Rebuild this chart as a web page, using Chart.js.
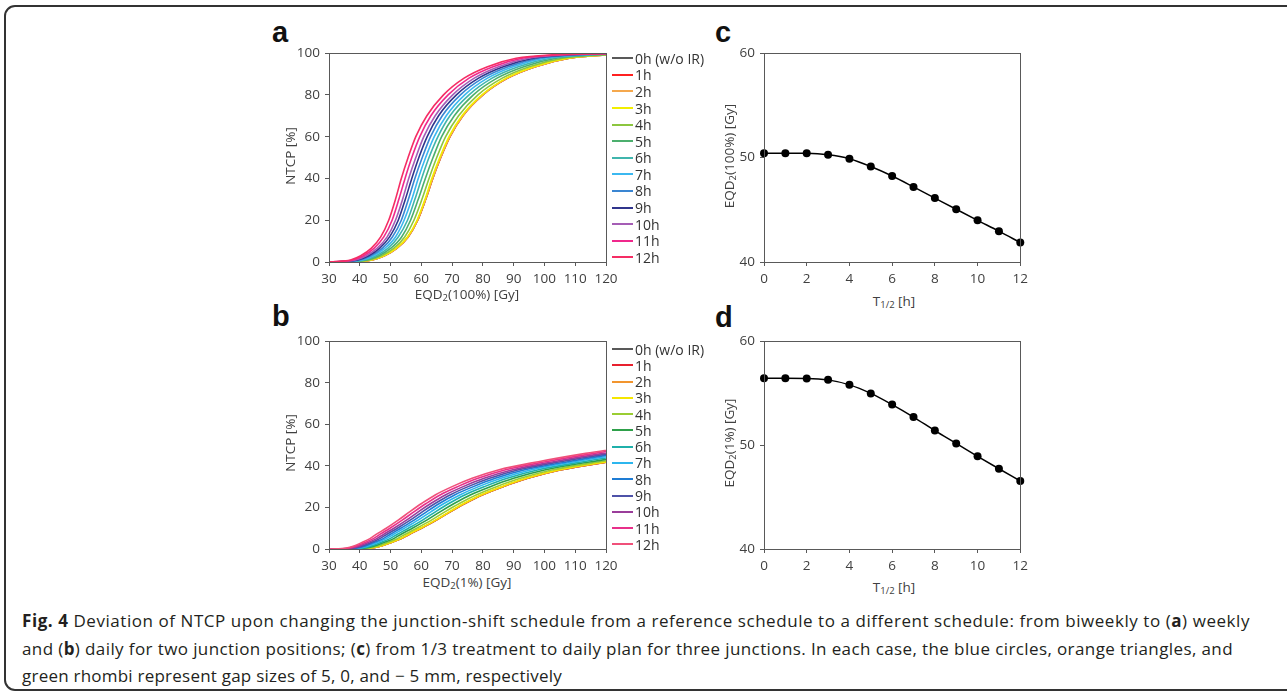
<!DOCTYPE html>
<html>
<head>
<meta charset="utf-8">
<script src="https://cdn.jsdelivr.net/npm/chart.js@4.4.1/dist/chart.umd.min.js"></script>
<style>
  html, body { margin: 0; padding: 0; background: #fff; }
  body { width: 1287px; height: 693px; position: relative; overflow: hidden; font-family: "Open Sans", sans-serif; color: #404040; }
  .frame { position: absolute; left: 4px; top: 5px; width: 1300px; height: 686px; border: 2px solid #333; border-radius: 11px; box-sizing: border-box; }
  canvas { position: absolute; display: block; }
  .letter { position: absolute; font-family: "Liberation Sans", Arial, sans-serif; font-weight: bold; font-size: 29px; line-height: 29px; color: #111; }
  .legend .row { position: absolute; height: 16px; display: flex; align-items: center; white-space: nowrap; font-size: 14px; color: #333; }
  .legend .sw { width: 21px; height: 2px; margin-right: 2px; }
  .xt, .yt { position: absolute; font-size: 13.5px; white-space: nowrap; color: #404040; }
  .xt { transform: translate(-50%, -50%); }
  .yt { transform: translate(-50%, -50%) rotate(-90deg); }
  sub { font-size: 0.7em; vertical-align: -0.25em; line-height: 0; }
  .cl { position: absolute; left: 22px; white-space: nowrap; font-size: 17px; line-height: 20px; color: #231f20; }
</style>
</head>
<body>
<div class="frame"></div>

<div class="letter" style="left:272px;top:18px">a</div>
<div class="letter" style="left:272px;top:302px">b</div>
<div class="letter" style="left:715px;top:18px">c</div>
<div class="letter" style="left:715px;top:303px">d</div>

<canvas id="chartA" width="365" height="246" style="left:260px;top:40px"></canvas>
<canvas id="chartB" width="365" height="245" style="left:260px;top:328px"></canvas>
<canvas id="chartC" width="313" height="246" style="left:720px;top:40px"></canvas>
<canvas id="chartD" width="313" height="245" style="left:720px;top:328px"></canvas>

<div class="yt" style="left:290px;top:156px">NTCP [%]</div>
<div class="xt" style="left:467px;top:294px">EQD<sub>2</sub>(100%) [Gy]</div>
<div class="yt" style="left:290px;top:443px">NTCP [%]</div>
<div class="xt" style="left:467px;top:582px">EQD<sub>2</sub>(1%) [Gy]</div>
<div class="yt" style="left:729px;top:156px">EQD<sub>2</sub>(100%) [Gy]</div>
<div class="xt" style="left:894px;top:301px">T<sub>1/2</sub> [h]</div>
<div class="yt" style="left:729px;top:443px">EQD<sub>2</sub>(1%) [Gy]</div>
<div class="xt" style="left:894px;top:587px">T<sub>1/2</sub> [h]</div>

<div class="legend" id="legendA"></div>
<div class="legend" id="legendB"></div>

<div class="cl" data-w="1228" style="top:611px"><b>Fig. 4</b> Deviation of NTCP upon changing the junction-shift schedule from a reference schedule to a different schedule: from biweekly to (<b>a</b>) weekly</div>
<div class="cl" data-w="1211" style="top:639px">and (<b>b</b>) daily for two junction positions; (<b>c</b>) from 1/3 treatment to daily plan for three junctions. In each case, the blue circles, orange triangles, and</div>
<div class="cl" data-w="540" style="top:666px">green rhombi represent gap sizes of 5, 0, and − 5 mm, respectively</div>

<script>
/* ---------- Data ---------- */
const seriesLabels = ['0h (w/o IR)', '1h', '2h', '3h', '4h', '5h', '6h', '7h', '8h', '9h', '10h', '11h', '12h'];

// Panel a: NTCP levels [%] and the EQD2(100%) [Gy] where each curve reaches them
const ntcpLevelsA = [0, 0.2, 1, 3, 6.5, 12, 20, 30, 40, 50, 60, 70, 80, 88, 93.5, 97.5, 99.2, 99.9];
const doseA = [
  [30, 38.0, 44.0, 48.0, 52.0, 55.7, 58.8, 61.4, 63.7, 66.3, 69.3, 73.5, 80.0, 88.0, 97.0, 108.0, 122.0, 150.0], // 0h
  [30, 38.0, 44.0, 48.0, 52.0, 55.7, 58.8, 61.4, 63.7, 66.3, 69.3, 73.5, 80.0, 88.0, 97.0, 108.0, 122.0, 150.0], // 1h
  [30, 38.0, 44.0, 48.0, 52.0, 55.7, 58.8, 61.4, 63.7, 66.3, 69.3, 73.5, 80.0, 88.0, 97.0, 108.0, 122.0, 150.0], // 2h
  [30, 37.8, 43.8, 47.8, 51.8, 55.5, 58.6, 61.2, 63.4, 66.0, 69.0, 73.2, 79.7, 87.6, 96.6, 107.6, 121.5, 149.4], // 3h
  [30, 37.3, 43.1, 47.1, 51.0, 54.6, 57.6, 60.2, 62.5, 65.0, 67.9, 72.1, 78.4, 86.3, 95.1, 105.9, 119.6, 147.1], // 4h
  [30, 36.5, 42.3, 46.2, 50.0, 53.6, 56.5, 59.0, 61.3, 63.8, 66.6, 70.7, 76.9, 84.6, 93.3, 103.8, 117.3, 144.2], // 5h
  [30, 35.8, 41.5, 45.3, 49.1, 52.5, 55.5, 57.9, 60.1, 62.5, 65.4, 69.3, 75.5, 83.0, 91.5, 101.9, 115.1, 141.5], // 6h
  [30, 35.2, 40.7, 44.4, 48.1, 51.6, 54.4, 56.9, 59.0, 61.4, 64.2, 68.1, 74.1, 81.5, 89.8, 100.0, 113.0, 138.9], // 7h
  [30, 34.5, 40.0, 43.6, 47.3, 50.6, 53.5, 55.8, 57.9, 60.3, 63.0, 66.8, 72.7, 80.0, 88.2, 98.2, 110.9, 136.4], // 8h
  [30, 33.9, 39.3, 42.9, 46.4, 49.7, 52.5, 54.8, 56.9, 59.2, 61.9, 65.6, 71.4, 78.6, 86.6, 96.4, 108.9, 133.9], // 9h
  [30, 33.3, 38.6, 42.1, 45.6, 48.9, 51.6, 53.9, 55.9, 58.2, 60.8, 64.5, 70.2, 77.2, 85.1, 94.7, 107.0, 131.6], // 10h
  [30, 32.6, 37.8, 41.2, 44.6, 47.8, 50.5, 52.7, 54.7, 56.9, 59.5, 63.1, 68.7, 75.5, 83.3, 92.7, 104.7, 128.8], // 11h
  [30, 31.9, 37.0, 40.3, 43.7, 46.8, 49.4, 51.6, 53.5, 55.7, 58.2, 61.8, 67.2, 73.9, 81.5, 90.8, 102.5, 126.1]  // 12h
];

// Panel b: NTCP levels [%] and the EQD2(1%) [Gy] where each curve reaches them
const ntcpLevelsB = [0, 0.1, 0.5, 1.5, 3, 5, 7, 10, 14, 18, 22, 26, 30, 34, 38, 42, 46, 50];
const doseB = [
  [30, 40.0, 44.0, 47.0, 50.0, 53.5, 56.0, 60.0, 65.0, 69.5, 74.3, 79.7, 86.5, 94.5, 105.0, 121.0, 140.0, 162.0], // 0h
  [30, 40.0, 44.0, 47.0, 50.0, 53.5, 56.0, 60.0, 65.0, 69.5, 74.3, 79.7, 86.5, 94.5, 105.0, 121.0, 140.0, 162.0], // 1h
  [30, 40.0, 44.0, 47.0, 50.0, 53.5, 56.0, 60.0, 65.0, 69.5, 74.3, 79.7, 86.5, 94.5, 105.0, 121.0, 140.0, 162.0], // 2h
  [30, 39.8, 43.8, 46.8, 49.8, 53.2, 55.7, 59.7, 64.7, 69.2, 73.9, 79.3, 86.1, 94.0, 104.5, 120.4, 139.3, 161.2], // 3h
  [30, 39.0, 42.9, 45.9, 48.8, 52.2, 54.6, 58.5, 63.4, 67.8, 72.5, 77.8, 84.4, 92.2, 102.4, 118.0, 136.6, 158.0], // 4h
  [30, 38.1, 41.9, 44.8, 47.6, 51.0, 53.3, 57.1, 61.9, 66.2, 70.8, 75.9, 82.4, 90.0, 100.0, 115.2, 133.3, 154.3], // 5h
  [30, 37.2, 40.9, 43.7, 46.5, 49.8, 52.1, 55.8, 60.5, 64.7, 69.1, 74.1, 80.5, 87.9, 97.7, 112.6, 130.2, 150.7], // 6h
  [30, 36.4, 40.0, 42.7, 45.5, 48.6, 50.9, 54.5, 59.1, 63.2, 67.5, 72.5, 78.6, 85.9, 95.5, 110.0, 127.3, 147.3], // 7h
  [30, 35.6, 39.1, 41.8, 44.4, 47.6, 49.8, 53.3, 57.8, 61.8, 66.0, 70.8, 76.9, 84.0, 93.3, 107.6, 124.4, 144.0], // 8h
  [30, 34.8, 38.3, 40.9, 43.5, 46.5, 48.7, 52.2, 56.5, 60.4, 64.6, 69.3, 75.2, 82.2, 91.3, 105.2, 121.7, 140.9], // 9h
  [30, 34.0, 37.4, 40.0, 42.6, 45.5, 47.7, 51.1, 55.3, 59.1, 63.2, 67.8, 73.6, 80.4, 89.4, 103.0, 119.1, 137.9], // 10h
  [30, 33.2, 36.5, 39.0, 41.5, 44.4, 46.5, 49.8, 53.9, 57.7, 61.7, 66.1, 71.8, 78.4, 87.1, 100.4, 116.2, 134.4], // 11h
  [30, 32.4, 35.6, 38.1, 40.5, 43.3, 45.3, 48.6, 52.6, 56.3, 60.2, 64.5, 70.0, 76.5, 85.0, 98.0, 113.4, 131.2]  // 12h
];

// Panels c and d: half-time T1/2 [h] vs EQD2 [Gy]
const halfTimes = [0, 1, 2, 3, 4, 5, 6, 7, 8, 9, 10, 11, 12];
const eqd2Full = [50.42, 50.42, 50.41, 50.27, 49.89, 49.14, 48.23, 47.19, 46.12, 45.05, 43.99, 42.95, 41.86];
const eqd2One  = [56.42, 56.42, 56.41, 56.27, 55.79, 54.97, 53.89, 52.69, 51.39, 50.16, 48.92, 47.72, 46.54];

/* ---------- Styles ---------- */
const colorsA = ['#595959', '#ff2020', '#f5a84d', '#f2ee00', '#8cc63f', '#4caf6e', '#40b5ad', '#3bb8f0', '#3a86d2', '#30358c', '#a55db5', '#f0288c', '#f52d64'];
const colorsB = ['#595959', '#e8202e', '#f2952e', '#f5e600', '#9acd32', '#2ea04a', '#1fb0aa', '#2cb6ee', '#1e7cd4', '#4e52a8', '#9a3d9a', '#e8308a', '#f0507a'];
const axisColor = '#595959';
const tickFont = { family: 'Open Sans', size: 13.5 };

Chart.defaults.font.family = 'Open Sans';
Chart.defaults.color = '#404040';

// box round the plot area, like the spreadsheet original
const boxPlugin = {
  id: 'box',
  afterDraw(chart) {
    const { ctx, chartArea: a } = chart;
    ctx.save();
    ctx.strokeStyle = axisColor;
    ctx.lineWidth = 1;
    ctx.strokeRect(Math.round(a.left) + 0.5, Math.round(a.top) + 0.5, Math.round(a.right - a.left), Math.round(a.bottom - a.top));
    ctx.restore();
  }
};

function axis(min, max, step, size, horizontal) {
  return {
    type: 'linear', min, max,
    ticks: { stepSize: step, font: tickFont, color: '#404040', padding: horizontal ? 5 : 5, maxRotation: 0, autoSkip: false },
    grid: { drawOnChartArea: false, drawTicks: true, tickLength: 4, color: axisColor },
    border: { color: axisColor, width: 1 },
    afterFit(s) { if (horizontal) s.height = size; else s.width = size; }
  };
}

function curveChart(id, levels, doses, colors, padRight) {
  new Chart(document.getElementById(id), {
    type: 'line',
    data: {
      datasets: doses.map((d, i) => ({
        label: seriesLabels[i],
        data: d.map((x, j) => ({ x, y: levels[j] })),
        borderColor: colors[i],
        borderWidth: 1.6,
        pointRadius: 0,
        cubicInterpolationMode: 'monotone',
        fill: false,
        order: doses.length - i
      }))
    },
    options: {
      responsive: false, animation: false, devicePixelRatio: 1,
      layout: { padding: { top: 10, right: padRight, left: 0, bottom: 0 } },
      plugins: { legend: { display: false }, tooltip: { enabled: false } },
      scales: { x: axis(30, 120, 10, 24, true), y: axis(0, 100, 20, 69, false) }
    },
    plugins: [boxPlugin]
  });
}

function halfTimeChart(id, values, padRight) {
  new Chart(document.getElementById(id), {
    type: 'line',
    data: {
      datasets: [{
        data: halfTimes.map((t, i) => ({ x: t, y: values[i] })),
        borderColor: '#000', borderWidth: 1.5,
        pointRadius: 4, pointBackgroundColor: '#000', pointBorderWidth: 0,
        cubicInterpolationMode: 'monotone', clip: false
      }]
    },
    options: {
      responsive: false, animation: false, devicePixelRatio: 1,
      layout: { padding: { top: 10, right: padRight, left: 0, bottom: 0 } },
      plugins: { legend: { display: false }, tooltip: { enabled: false } },
      scales: { x: axis(0, 12, 2, 24, true), y: axis(40, 60, 10, 44, false) }
    },
    plugins: [boxPlugin]
  });
}

curveChart('chartA', ntcpLevelsA, doseA, colorsA, 19);
curveChart('chartB', ntcpLevelsB, doseB, colorsB, 19);
halfTimeChart('chartC', eqd2Full, 10);
halfTimeChart('chartD', eqd2One, 10);

/* ---------- Legends ---------- */
function buildLegend(id, colors, left, top0, step) {
  const el = document.getElementById(id);
  seriesLabels.forEach((lab, i) => {
    const row = document.createElement('div');
    row.className = 'row';
    row.style.left = left + 'px';
    row.style.top = (top0 + i * step - 8) + 'px';
    row.innerHTML = '<span class="sw" style="background:' + colors[i] + '"></span>' + lab;
    el.appendChild(row);
  });
}
buildLegend('legendA', colorsA, 612, 58.3, 16.58);
buildLegend('legendB', colorsB, 612, 349, 16.28);

/* ---------- Caption: fit each line to its width in the original ---------- */
document.querySelectorAll('.cl').forEach(line => {
  const target = +line.dataset.w;
  const w = line.getBoundingClientRect().width;
  const n = line.textContent.length;
  line.style.letterSpacing = ((target - w) / n).toFixed(3) + 'px';
});
</script>
</body>
</html>
